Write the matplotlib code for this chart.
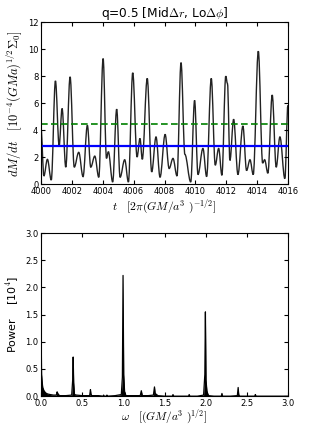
import numpy as np
import matplotlib
matplotlib.use('Agg')
import matplotlib.pyplot as plt
from matplotlib.path import Path
from matplotlib.patches import PathPatch

# accretion rate: local extrema
t_ext = [4000.00, 4000.18, 4000.41, 4000.66, 4000.93, 4001.17, 4001.36, 4001.60,
         4001.88, 4002.15, 4002.44, 4002.72, 4003.00, 4003.22, 4003.48, 4003.74,
         4004.02, 4004.24, 4004.36, 4004.64, 4004.90, 4005.12, 4005.42, 4005.66,
         4005.94, 4006.22, 4006.41, 4006.56, 4006.88, 4007.17, 4007.45, 4007.71,
         4008.04, 4008.30, 4008.55, 4008.81, 4009.07, 4009.32, 4009.70, 4009.95,
         4010.17, 4010.49, 4010.73, 4011.03, 4011.29, 4011.51, 4011.72, 4011.97,
         4012.08, 4012.24, 4012.48, 4012.76, 4013.08, 4013.32, 4013.54, 4013.75,
         4014.08, 4014.36, 4014.49, 4014.70, 4014.98, 4015.24, 4015.48, 4015.80,
         4016.00]
mdot_ext = [4.0, 0.6, 1.83, 0.3, 7.65, 2.85, 5.6, 1.25,
            7.95, 1.25, 2.35, 0.55, 4.35, 1.25, 2.07, 0.5,
            9.3, 1.9, 2.4, 0.15, 5.55, 0.5, 1.8, 0.15,
            8.25, 2.0, 3.38, 1.83, 7.83, 0.9, 3.5, 0.5,
            3.68, 1.15, 1.9, 0.6, 9.0, 2.2, 0.15, 6.2,
            0.7, 2.64, 0.55, 7.83, 1.4, 2.64, 0.65, 8.0,
            7.45, 1.75, 4.8, 0.7, 4.3, 1.0, 1.8, 0.7,
            9.85, 1.55, 1.8, 0.8, 6.6, 1.25, 3.5, 0.4,
            5.85]
mdot_mean = 4.45     # green dashed
mdot_median = 2.8    # blue solid

# power spectrum
omega = [0.000, 0.002, 0.006, 0.012, 0.020, 0.035, 0.055, 0.080, 0.110, 0.150,
         0.185, 0.195, 0.203, 0.212, 0.225, 0.300, 0.372, 0.384, 0.390, 0.396,
         0.406, 0.430, 0.500, 0.590, 0.600, 0.606, 0.615, 0.700, 0.755, 0.760,
         0.765, 0.795, 0.800, 0.805, 0.900, 0.975, 0.988, 0.996, 1.004, 1.015,
         1.022, 1.030, 1.100, 1.205, 1.218, 1.230, 1.300, 1.365, 1.378, 1.386,
         1.395, 1.420, 1.500, 1.595, 1.603, 1.612, 1.700, 1.792, 1.800, 1.808,
         1.900, 1.975, 1.990, 1.997, 2.004, 2.015, 2.022, 2.035, 2.100, 2.190,
         2.198, 2.206, 2.300, 2.385, 2.395, 2.402, 2.412, 2.500, 2.597, 2.604,
         2.612, 2.700, 3.000]
power = [1.00, 0.95, 0.40, 0.28, 0.16, 0.10, 0.06, 0.04, 0.03, 0.02,
         0.02, 0.08, 0.05, 0.03, 0.01, 0.01, 0.02, 0.30, 0.72, 0.25,
         0.03, 0.02, 0.01, 0.01, 0.12, 0.04, 0.01, 0.01, 0.00, 0.02,
         0.00, 0.00, 0.02, 0.00, 0.01, 0.03, 0.35, 2.22, 0.40, 0.08,
         0.06, 0.01, 0.01, 0.01, 0.10, 0.01, 0.01, 0.02, 0.17, 0.05,
         0.04, 0.01, 0.00, 0.00, 0.03, 0.00, 0.00, 0.00, 0.03, 0.00,
         0.00, 0.02, 0.40, 1.55, 0.30, 0.10, 0.06, 0.01, 0.00, 0.00,
         0.05, 0.00, 0.00, 0.01, 0.16, 0.03, 0.00, 0.00, 0.00, 0.03,
         0.00, 0.00, 0.00]

plt.rcParams['mathtext.fontset'] = 'cm'
plt.rcParams['font.family'] = 'DejaVu Sans'
plt.rcParams['xtick.direction'] = 'in'
plt.rcParams['ytick.direction'] = 'in'
plt.rcParams['xtick.top'] = True
plt.rcParams['ytick.right'] = True
plt.rcParams['xtick.major.size'] = 3
plt.rcParams['ytick.major.size'] = 3
plt.rcParams['xtick.major.pad'] = 2
plt.rcParams['ytick.major.pad'] = 2

fig = plt.figure(figsize=(3.21, 4.26), dpi=100)
ax1 = fig.add_axes([0.128, 0.568, 0.769, 0.380])
ax2 = fig.add_axes([0.128, 0.070, 0.769, 0.383])

# smooth line through the extrema (horizontal tangents at each turning point)
verts = [(t_ext[0], mdot_ext[0])]
codes = [Path.MOVETO]
for i in range(len(t_ext) - 1):
    dt = t_ext[i + 1] - t_ext[i]
    verts += [(t_ext[i] + 0.36 * dt, mdot_ext[i]),
              (t_ext[i + 1] - 0.36 * dt, mdot_ext[i + 1]),
              (t_ext[i + 1], mdot_ext[i + 1])]
    codes += [Path.CURVE4] * 3
ax1.add_patch(PathPatch(Path(verts, codes), fill=False, ec='#222222', lw=1.0))
ax1.axhline(mdot_mean, color='green', ls='--', lw=1.2, dashes=(4, 2))
ax1.axhline(mdot_median, color='blue', lw=1.6)
ax1.set_xlim(4000, 4016)
ax1.set_ylim(0, 12)
ax1.set_xticks(np.arange(4000, 4017, 2))
ax1.set_yticks(np.arange(0, 13, 2))
ax1.tick_params(labelsize=6)
ax1.set_title(r'q=0.5 [Mid$\Delta r$, Lo$\Delta\phi$]', fontsize=8.7, pad=3)
ax1.set_xlabel(r'$t\quad[2\pi(GM/a^3\ )^{-1/2}]$', fontsize=8.4, labelpad=1)
ax1.set_ylabel(r'$dM/dt\quad[10^{-4}(GMa)^{1/2}\Sigma_0]$', fontsize=9, labelpad=2)

ax2.plot(omega, power, color='black', lw=0.9)
ax2.fill_between(omega, power, color='black', lw=0)
ax2.set_xlim(0, 3)
ax2.set_ylim(0, 3)
ax2.set_xticks(np.arange(0, 3.01, 0.5))
ax2.set_yticks(np.arange(0, 3.01, 0.5))
ax2.set_xticklabels(['%.1f' % v for v in np.arange(0, 3.01, 0.5)])
ax2.set_yticklabels(['%.1f' % v for v in np.arange(0, 3.01, 0.5)])
ax2.tick_params(labelsize=6)
ax2.set_xlabel(r'$\omega\quad[(GM/a^3\ )^{1/2}]$', fontsize=8.2, labelpad=0)
ax2.set_ylabel(r'Power    [10$^4$]', fontsize=8, labelpad=3)

fig.savefig('out.png', dpi=100)
